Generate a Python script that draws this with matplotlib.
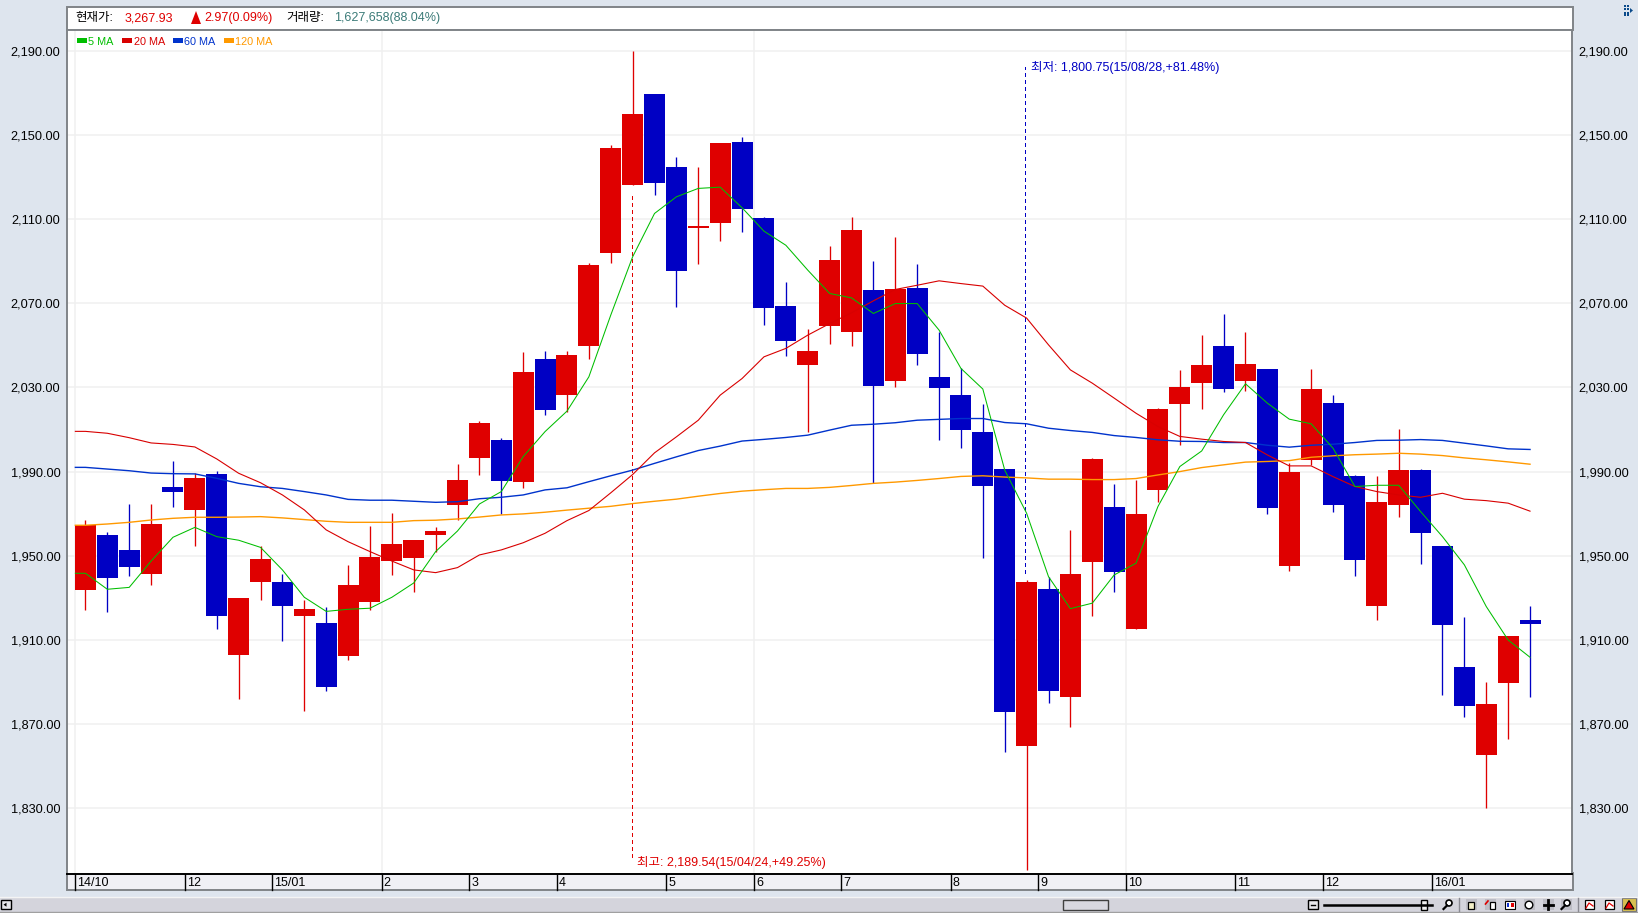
import matplotlib
matplotlib.use("Agg")
import numpy as np
import matplotlib.pyplot as plt
from matplotlib.patches import Rectangle, Polygon, Circle

W, H = 1638, 913
FONT = ['Liberation Sans', 'Noto Sans CJK KR']

opens = [1933.8, 1959.9, 1952.8, 1941.4, 1982.7, 1971.8, 1988.9, 1902.9, 1937.6, 1937.6,
         1921.4, 1918.1, 1902.4, 1928.1, 1947.5, 1949.0, 1959.9, 1974.1, 1996.5, 2005.0,
         1985.1, 2043.4, 2026.3, 2049.6, 2093.7, 2126.0, 2169.3, 2134.6, 2105.6, 2108.0,
         2146.5, 2110.4, 2068.6, 2040.6, 2059.1, 2056.2, 2076.2, 2033.0, 2077.1, 2034.9,
         2026.3, 2008.7, 1991.3, 1859.7, 1934.3, 1883.0, 1947.1, 1973.2, 1915.3, 1981.3,
         2022.2, 2032.2, 2049.7, 2033.1, 2038.8, 1945.2, 1995.6, 2022.7, 1988.0, 1926.2,
         1974.2, 1990.8, 1954.7, 1897.2, 1855.4, 1889.6, 1919.5]
closes = [1964.5, 1939.5, 1944.7, 1965.1, 1980.3, 1987.0, 1921.4, 1930.0, 1948.5, 1926.2,
          1924.7, 1887.7, 1936.1, 1949.4, 1955.6, 1957.5, 1961.8, 1986.0, 2013.1, 1985.5,
          2037.3, 2019.2, 2045.3, 2088.0, 2143.6, 2159.8, 2127.0, 2085.2, 2106.6, 2146.0,
          2114.6, 2067.6, 2052.0, 2047.2, 2090.4, 2104.7, 2030.6, 2076.6, 2045.8, 2029.6,
          2009.7, 1983.1, 1875.8, 1937.6, 1885.8, 1941.4, 1996.0, 1942.4, 1969.9, 2019.8,
          2030.3, 2040.7, 2029.3, 2041.2, 1972.8, 1989.9, 2029.3, 1974.2, 1948.0, 1975.6,
          1990.8, 1960.9, 1917.2, 1878.7, 1879.6, 1911.9, 1917.6]
highs = [1967.0, 1961.3, 1974.6, 1974.6, 1995.0, 1989.2, 1990.3, 1930.0, 1954.7, 1941.4,
         1929.0, 1925.7, 1945.6, 1964.2, 1970.3, 1957.5, 1963.7, 1993.6, 2014.0, 2006.0,
         2046.7, 2047.2, 2047.2, 2089.0, 2145.0, 2189.54, 2169.3, 2139.3, 2134.6, 2146.0,
         2148.8, 2110.8, 2080.0, 2057.6, 2097.1, 2110.8, 2090.0, 2101.3, 2088.5, 2056.2,
         2039.0, 2022.0, 1991.3, 1938.5, 1940.1, 1962.3, 1996.5, 1984.2, 1986.1, 2020.3,
         2038.3, 2055.0, 2064.9, 2056.4, 2038.8, 1994.0, 2038.8, 2026.5, 1988.4, 1988.0,
         2010.3, 1991.3, 1954.7, 1921.0, 1890.0, 1911.9, 1926.2]
lows = [1924.3, 1923.3, 1940.4, 1936.1, 1973.2, 1954.7, 1915.2, 1882.0, 1929.0, 1909.5,
        1876.3, 1885.8, 1900.5, 1924.3, 1940.9, 1932.8, 1951.8, 1967.0, 1988.4, 1969.7,
        1982.2, 2016.8, 2018.4, 2043.4, 2089.0, 2126.0, 2121.3, 2068.1, 2088.5, 2099.4,
        2103.7, 2059.6, 2044.8, 2008.7, 2050.5, 2049.6, 1984.4, 2030.1, 2040.6, 2004.9,
        2001.1, 1949.0, 1856.8, 1800.75, 1880.1, 1868.8, 1921.4, 1932.8, 1915.3, 1975.6,
        2002.7, 2019.8, 2027.9, 2028.4, 1969.9, 1942.8, 1993.2, 1970.9, 1940.4, 1919.5,
        1968.5, 1946.1, 1883.9, 1873.4, 1830.2, 1863.0, 1882.9]

ma5 = [1941.7, 1934.1, 1935.0, 1947.5, 1958.8, 1963.5, 1959.1, 1957.4, 1954.0, 1943.3,
       1930.3, 1923.6, 1924.6, 1925.1, 1930.3, 1937.1, 1952.0, 1961.8, 1974.6, 1980.5,
       1997.1, 2009.0, 2018.7, 2035.0, 2064.3, 2092.0, 2112.6, 2120.5, 2124.5, 2125.1,
       2115.3, 2104.2, 2097.5, 2085.7, 2074.6, 2072.5, 2065.1, 2069.8, 2069.8, 2057.2,
       2039.0, 2029.2, 1990.7, 1970.2, 1940.1, 1924.9, 1927.5, 1940.9, 1946.5, 1973.4,
       1992.4, 1999.8, 2017.0, 2031.7, 2022.5, 2014.9, 2012.7, 2001.1, 1982.9, 1983.5,
       1983.5, 1971.0, 1959.1, 1945.7, 1925.9, 1910.0, 1901.8]
ma20 = [2009.1, 2008.2, 2006.1, 2003.6, 2002.9, 2001.7, 1996.0, 1989.2, 1984.7, 1978.9,
        1971.8, 1962.3, 1956.7, 1952.0, 1947.5, 1943.3, 1942.0, 1944.4, 1950.4, 1952.8,
        1956.2, 1960.7, 1966.7, 1971.5, 1979.9, 1988.6, 1998.9, 2006.5, 2014.4, 2026.3,
        2034.2, 2044.5, 2048.5, 2054.8, 2060.3, 2065.4, 2071.1, 2076.5, 2078.5, 2080.6,
        2079.3, 2078.1, 2069.0, 2062.9, 2050.2, 2038.3, 2032.0, 2024.9, 2017.7, 2011.4,
        2006.7, 2005.4, 2004.3, 2003.8, 1997.9, 1992.7, 1992.7, 1987.6, 1982.9, 1980.5,
        1978.9, 1977.8, 1979.7, 1976.9, 1976.2, 1975.0, 1971.2]
ma60 = [1992.0, 1991.2, 1990.4, 1989.3, 1989.0, 1988.9, 1986.8, 1984.4, 1982.8, 1982.0,
        1980.5, 1978.9, 1976.8, 1976.4, 1976.4, 1975.9, 1975.4, 1975.7, 1977.1, 1977.8,
        1978.9, 1981.3, 1982.3, 1985.2, 1988.0, 1990.7, 1993.9, 1997.0, 2000.0, 2002.1,
        2004.5, 2005.3, 2006.2, 2007.3, 2009.7, 2012.0, 2012.5, 2013.2, 2014.4, 2014.8,
        2015.2, 2015.2, 2013.3, 2012.7, 2010.6, 2009.5, 2008.6, 2007.1, 2006.2, 2005.1,
        2004.4, 2004.3, 2003.8, 2003.8, 2002.5, 2001.6, 2002.5, 2003.0, 2003.8, 2004.8,
        2004.9, 2005.2, 2004.8, 2003.5, 2002.2, 2000.8, 2000.5]
ma120 = [1964.5, 1965.1, 1965.9, 1967.0, 1967.8, 1968.3, 1968.3, 1968.4, 1968.6, 1968.0,
         1967.2, 1966.4, 1965.9, 1965.9, 1965.9, 1966.7, 1966.9, 1967.5, 1968.4, 1969.4,
         1969.9, 1970.7, 1971.7, 1972.6, 1973.5, 1974.8, 1975.9, 1976.9, 1978.3, 1979.6,
         1980.7, 1981.4, 1982.0, 1982.0, 1982.5, 1983.4, 1984.4, 1985.0, 1985.8, 1986.7,
         1987.7, 1988.0, 1987.4, 1987.0, 1986.4, 1986.4, 1986.2, 1986.2, 1986.7, 1988.4,
         1990.0, 1991.9, 1993.2, 1994.5, 1994.8, 1995.2, 1996.8, 1997.5, 1998.0, 1998.3,
         1998.7, 1998.3, 1997.6, 1996.5, 1995.6, 1994.6, 1993.5]

month_labels = ['14/10', '12', '15/01', '2', '3', '4', '5', '6', '7', '8', '9', '10', '11', '12', '16/01']
month_starts = [0, 5, 9, 14, 18, 22, 27, 31, 35, 40, 44, 48, 53, 57, 62]
grid_months = [0, 14, 31, 48]
price_ticks = [1830, 1870, 1910, 1950, 1990, 2030, 2070, 2110, 2150, 2190]

legend_names = ['5 MA', '20 MA', '60 MA', '120 MA']
legend_colors = ['#00BE00', '#D80000', '#0033CC', '#FF9900']

RED = '#DF0000'
BLUE = '#0000C4'
BG = '#DEE5EE'
BORDER = '#808488'

fig = plt.figure(figsize=(W / 100, H / 100), dpi=100, facecolor=BG)

# window chrome, in pixel coordinates
bg = fig.add_axes([0, 0, 1, 1], zorder=0)
bg.set_xlim(0, W)
bg.set_ylim(H, 0)
bg.axis('off')

L, R, T, B = 66.5, 1572.5, 30.5, 873.5
X0, X1 = -0.865, 67.94

ax = fig.add_axes([L / W, 1 - B / H, (R - L) / W, (B - T) / H], zorder=1)
ax.set_facecolor('white')
ax.set_xlim(X0, X1)
ax.set_ylim(1799.1, 2199.5)

x = np.arange(len(opens))
opens_a, closes_a = np.array(opens), np.array(closes)
colors = [RED if c >= o else BLUE for o, c in zip(opens, closes)]

ax.set_yticks(price_ticks)
ax.set_yticklabels([f'{v:,.2f}' for v in price_ticks], family=FONT, fontsize=9.2)
ax.tick_params(axis='y', length=0, labelleft=True, labelright=True, pad=4.5)
ax.set_xticks([])
ax.grid(False)
ax.hlines(price_ticks, X0, X1, color='#F0F0F0', lw=1.1, zorder=1)
for m in grid_months:
    ax.axvline(m - 0.46, color='#F0F0F0', lw=1.1, zorder=1)
for s in ax.spines.values():
    s.set_color(BORDER)
    s.set_linewidth(1.4)
ax.spines['bottom'].set_color('black')

# high / low markers
ax.vlines(24.96, 1807, 2122, color=RED, lw=0.75, linestyles=(0, (3.2, 3.0)), antialiased=False, zorder=2)
ax.vlines(42.93, 1942, 2182, color=BLUE, lw=0.75, linestyles=(0, (3.2, 3.0)), antialiased=False, zorder=2)

# candles
ax.vlines(x, lows, highs, color=colors, lw=0.95, zorder=3)
ax.bar(x, np.abs(closes_a - opens_a), bottom=np.minimum(opens_a, closes_a), width=0.96,
       color=colors, linewidth=0, zorder=4)

# moving averages, each starts flat from the left edge of the first candle
for series, c, lw in zip([ma120, ma60, ma20, ma5], legend_colors[::-1], [1.0, 1.0, 0.8, 0.75]):
    ax.plot(np.r_[-0.46, x], np.r_[series[0], series], color=c, lw=lw, zorder=5)

ax.text(25.2, 1804.5, '최고: 2,189.54(15/04/24,+49.25%)', color=RED, family=FONT, fontsize=9,
        va='center', zorder=6)
ax.text(43.2, 2181.7, '최저: 1,800.75(15/08/28,+81.48%)', color=BLUE, family=FONT, fontsize=9,
        va='center', zorder=6)

# legend
legend_x = [77, 122, 173, 224]
for name, c, lx in zip(legend_names, legend_colors, legend_x):
    bg_patch = Rectangle((lx / W, 1 - 43.5 / H), 10 / W, 5 / H, transform=fig.transFigure,
                         color=c, lw=0, zorder=7)
    fig.add_artist(bg_patch)
    fig.text((lx + 11.5) / W, 1 - 42 / H, name, color=c, family=FONT, fontsize=7.8, va='center', zorder=7)

# header strip
bg.add_patch(Rectangle((L, 6.7), R - L, T - 6.7, fc='white', ec=BORDER, lw=1.4))
HY = 18.5
bg.text(75.5, HY, '현재가:', family=FONT, fontsize=9, va='center')
bg.text(124.5, HY, '3,267.93', family=FONT, fontsize=9, va='center', color=RED)
bg.add_patch(Polygon([(191, 24), (201, 24), (196, 11)], fc=RED, ec='none'))
bg.text(204.5, HY, '2.97(0.09%)', family=FONT, fontsize=9, va='center', color=RED)
bg.text(286.5, HY, '거래량:', family=FONT, fontsize=9, va='center')
bg.text(334.5, HY, '1,627,658(88.04%)', family=FONT, fontsize=9, va='center', color='#3B7B78')

# date strip
bg.add_patch(Rectangle((L, B), R - L, 890.3 - B, fc='#F0F0F5', ec=BORDER, lw=1.4))
for lab, m in zip(month_labels, month_starts):
    px = L + (m - 0.46 - X0) / (X1 - X0) * (R - L)
    bg.plot([px, px], [B, 890.3], color='black', lw=1)
    bg.text(px + 2, 883.3, lab, family=FONT, fontsize=9, va='center')

# status bar
bg.add_patch(Rectangle((0, 897), W, 16, fc='#D4D4DC', ec='none'))
bg.plot([0, W], [897, 897], color='#F4F4F4', lw=1)
bg.plot([0, W], [912, 912], color='#A0A0A0', lw=1)
bg.add_patch(Rectangle((0.5, 900), 10, 9.5, fc='#E8E8EC', ec='black', lw=1))
bg.add_patch(Polygon([(3.5, 904.7), (6.5, 902.7), (6.5, 906.7)], fc='black', ec='none'))
bg.add_patch(Rectangle((1063, 900), 45, 10, fc='#D8D8E0', ec='#404040', lw=1))
bg.add_patch(Rectangle((1307.5, 900), 10, 9.5, fc='#E8E8EC', ec='black', lw=1))
bg.plot([1310.5, 1314.5], [904.7, 904.7], color='black', lw=1)
bg.plot([1324, 1432], [905, 905], color='black', lw=1.8)
bg.add_patch(Rectangle((1421, 900), 5.5, 10, fc='#F0F0F0', ec='black', lw=1))

# toolbar icons
icon_x = [1448, 1471, 1490, 1510, 1529, 1548, 1566, 1590, 1610, 1629]
for ix in icon_x[1:7]:
    bg.add_patch(Rectangle((ix - 5.5, 899.5), 11, 11, fc='#BDBDC5', ec='none'))
bg.add_patch(Rectangle((icon_x[9] - 7, 898), 14, 13, fc='#D8C050', ec='#707070', lw=0.8))
for dx in [1459, 1578]:
    bg.plot([dx, dx], [898, 911], color='#8A8A92', lw=1)
for ix in [icon_x[0], icon_x[6]]:
    bg.add_patch(Circle((ix + 1, 903), 3, fc='white', ec='black', lw=1.2))
    bg.plot([ix - 1, ix - 4.5], [905.5, 909], color='black', lw=1.6)
bg.add_patch(Rectangle((icon_x[1] - 3.5, 902), 6.5, 7.5, fc='#F4F0C8', ec='black', lw=0.9))
bg.add_patch(Rectangle((icon_x[2] - 0.5, 902), 5, 7.5, fc='white', ec='black', lw=0.9))
bg.plot([icon_x[2] - 4.5, icon_x[2] - 2], [904, 901], color=RED, lw=1.2)
bg.add_patch(Rectangle((icon_x[3] - 5, 901.5), 10, 7.5, fc='white', ec='black', lw=0.8))
bg.add_patch(Rectangle((icon_x[3] - 3.5, 903), 2.5, 4.5, fc='#1030D0', ec='none'))
bg.add_patch(Rectangle((icon_x[3] + 1, 903), 2.5, 4.5, fc=RED, ec='none'))
bg.add_patch(Circle((icon_x[4], 905), 3.8, fc='white', ec='black', lw=1))
bg.plot([icon_x[5] - 4.5, icon_x[5] + 4.5], [905, 905], color='black', lw=2)
bg.plot([icon_x[5], icon_x[5]], [900.5, 909.5], color='black', lw=2)
for ix in icon_x[7:9]:
    bg.add_patch(Rectangle((ix - 5, 900.5), 9, 8.5, fc='white', ec='black', lw=0.9))
    bg.plot([ix - 4, ix - 1, ix + 3], [908, 903, 906], color=RED, lw=0.9)
bg.add_patch(Polygon([(icon_x[9] - 5, 909), (icon_x[9] + 5, 909), (icon_x[9], 900.5)], fc=RED, ec='black', lw=0.8))

# small grid icon top right
for gx in [1624.5, 1627.5]:
    for gy in [6, 9.5, 13, 15.5]:
        bg.add_patch(Rectangle((gx - 1, gy - 1), 2, 2, fc='#0A4A8A', ec='none'))
bg.add_patch(Polygon([(1630, 8), (1633, 10.5), (1630, 13)], fc='#0A4A8A', ec='none'))

fig.savefig('out.png', dpi=100, facecolor=BG)
